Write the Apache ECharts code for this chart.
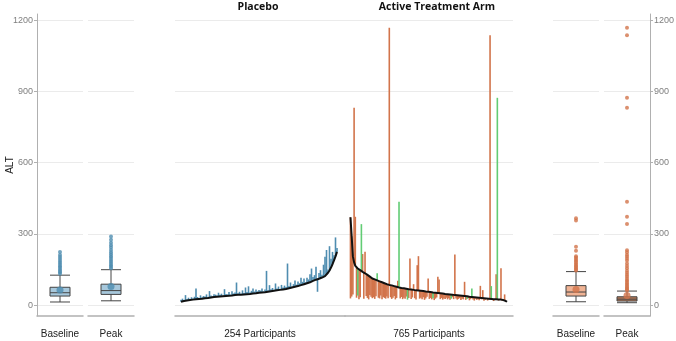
<!DOCTYPE html>
<html>
<head>
<meta charset="utf-8">
<script src="https://cdn.jsdelivr.net/npm/echarts@6/dist/echarts.min.js"></script>
<style>
  html, body { margin: 0; padding: 0; background: #fff; }
  #chart { width: 676px; height: 341px; }
</style>
</head>
<body>
<div id="chart"></div>
<script>
// ALT values
const yTicks = [0, 300, 600, 900, 1200]
const boxLabels = ['Baseline', 'Peak']

// boxplots: [min, Q1, median, Q3, max]
const placeboBox = [[13, 38, 52, 75, 126], [18, 45, 61, 88, 149]]
const placeboMean = [64, 78]
const placeboBaselineOut = [132, 138, 144, 150, 157, 164, 171, 178, 186, 194, 202, 211, 224]
const placeboPeakOut = [155, 161, 168, 175, 182, 190, 198, 206, 214, 222, 232, 242, 252, 262, 275, 289]

const activeBox = [[14, 38, 55, 82, 141], [10, 17, 25, 35, 59]]
const activeMean = [66, 40]
const activeBaselineOut = [146, 150, 155, 160, 165, 170, 176, 182, 188, 194, 200, 206, 229, 246, 356, 366]
const activePeakOut = [62, 66, 70, 75, 80, 86, 92, 98, 105, 112, 120, 128, 136, 145, 155, 165, 175, 188, 196, 205, 212, 222, 231, 341, 372, 435, 831, 873, 1137, 1168]

// per-participant profiles (sorted by baseline), baseline -> peak
const placeboBase = [
  14, 16, 17, 18, 19, 20, 21, 22, 23, 24,
  25, 25, 26, 27, 27, 28, 29, 29, 30, 31, 32, 33, 34,
  35, 35, 36, 36, 37, 37, 38, 38, 39, 39, 40, 40, 41, 42,
  42, 43, 43, 44, 44, 45, 45, 46, 47, 47, 48, 49, 49, 50, 51, 52,
  52, 53, 54, 54, 55, 56, 57, 58, 59, 60,
  61, 62, 63, 64, 65, 66, 67, 68, 70,
  71, 72, 74, 75, 77, 78, 80, 82, 84,
  86, 88, 90, 92, 94, 96, 99, 102, 105,
  107, 109, 111, 113, 116, 119, 122,
  128, 136, 146, 158, 172, 188, 205, 224
]
const placeboPeak = [
  22, 27, 20, 42, 25, 31, 24, 33, 28, 35,
  70, 34, 30, 41, 33, 38, 36, 45, 34, 59, 40, 37, 46,
  44, 40, 52, 43, 48, 39, 67, 47, 45, 55, 44, 58, 49, 53,
  95, 50, 56, 48, 62, 51, 74, 55, 79, 53, 60, 70, 57, 66, 58, 64,
  61, 70, 58, 66, 144, 62, 84, 67, 72, 64,
  91, 70, 78, 66, 85, 74, 82, 76, 175,
  80, 95, 78, 88, 104, 86, 99, 92, 115,
  98, 112, 96, 115, 108, 130, 154, 118, 126,
  161, 56, 135, 147, 128, 170, 204,
  232, 150, 248, 195, 224, 210, 285, 240
]

const activeBase = [
  370, 290, 205, 180, 165, 158,
  154, 150, 147, 143, 140,
  137, 134, 130, 127, 124, 120, 116, 112,
  110, 108, 106, 104, 102, 100, 98, 96, 94, 92, 90, 88, 86, 85,
  84, 83, 81, 80, 79, 77, 76, 74, 73,
  72, 71, 71, 70, 69, 68, 67, 67, 66, 65, 64, 63,
  62, 62, 61, 61, 60, 59, 59, 58, 57, 57, 56, 55, 55, 54, 53, 53, 52,
  51, 51, 50, 50, 49, 49, 48, 47, 47, 46, 46, 45, 44, 44, 43, 42,
  42, 41, 41, 40, 40, 39, 38, 38, 37, 37, 36, 35, 35, 34, 33, 33, 32,
  32, 31, 31, 30, 30, 29, 29, 28, 28, 28, 27, 27, 26, 26, 25, 25, 25, 24, 24, 24,
  23, 22, 21, 19, 17, 14
]
const activePeak = [
  28, 36, 45, 831, 372, 31, 40, 25, 33, 341,
  215, 27, 225, 38, 30, 24, 42, 35, 29, 33,
  26, 37, 134, 31, 28, 40, 25, 34, 30, 27,
  36, 29, 1168, 33, 26, 31, 38, 24, 30, 102,
  435, 28, 34, 25, 31, 27, 36, 23, 30, 196,
  26, 32, 88, 29, 24, 168, 206, 27, 31, 25,
  33, 22, 28, 35, 112, 26, 30, 24, 29, 21,
  27, 32, 119, 108, 25, 30, 23, 28, 26, 31,
  24, 29, 22, 27, 33, 25, 213, 28, 23, 26,
  30, 21, 27, 24, 98, 22, 26, 29, 20, 25,
  70, 23, 19, 27, 22, 25, 20, 81, 24, 63,
  18, 22, 26, 19, 23, 1137, 80, 21, 17, 24,
  130, 873, 19, 22, 155, 18, 20, 45, 16, 14
]
const activeGreen = [6, 9, 22, 40, 47, 68, 83, 96, 100, 112, 116, 121]

const BLUE = '#4f8db0'
const BLUE_FILL = '#a7c8dc'
const ORANGE = '#d2744b'
const ORANGE_FILL = '#f0b394'
const GREEN = '#62cc74'
const AXIS = '#b0b0b0'
const GRID = '#ebebeb'
const FONT = 'Liberation Sans'

const chart = echarts.init(document.getElementById('chart'), null, { renderer: 'canvas' })

function makeGrid(left, width) {
  return { left: left, top: 14, width: width, height: 302, outerBoundsMode: 'none', containLabel: false }
}

const grids = [
  makeGrid(37, 46),
  makeGrid(88, 46),
  makeGrid(175, 170),
  makeGrid(345, 168),
  makeGrid(553, 46),
  makeGrid(604, 46),
]

function yAxisFor(i) {
  const showLeft = i === 0
  const showRight = i === 5
  return {
    gridIndex: i,
    type: 'value',
    min: -46,
    max: 1226,
    position: showRight ? 'right' : 'left',
    name: showLeft ? 'ALT' : '',
    nameLocation: 'middle',
    nameGap: 22,
    nameRotate: 90,
    nameMoveOverlap: false,
    nameTextStyle: { color: '#222', fontSize: 10, fontFamily: FONT },
    axisLine: { show: showLeft || showRight, onZero: false, lineStyle: { color: AXIS } },
    axisTick: { show: showLeft || showRight, length: 3, customValues: yTicks, lineStyle: { color: AXIS } },
    axisLabel: {
      show: showLeft || showRight, customValues: yTicks, formatter: v => String(v),
      color: '#7f7f7f', fontSize: 9, fontFamily: FONT, margin: 4,
    },
    splitLine: { show: true, lineStyle: { color: GRID, width: 1 } },
  }
}

function boxXAxis(i, label) {
  return {
    gridIndex: i,
    type: 'category',
    data: [label],
    axisLine: { onZero: false, lineStyle: { color: AXIS, width: 1.5 } },
    axisTick: { alignWithLabel: true, length: 3, lineStyle: { color: '#777' } },
    axisLabel: { color: '#222', fontSize: 10, fontFamily: FONT, margin: 13 },
    splitLine: { show: false },
  }
}

function idxXAxis(i, n, padL, padR, name) {
  return {
    gridIndex: i,
    type: 'value',
    min: -padL,
    max: n - 1 + padR,
    name: name,
    nameLocation: 'middle',
    nameGap: 13,
    nameMoveOverlap: false,
    nameTextStyle: { color: '#222', fontSize: 10, fontFamily: FONT },
    axisLine: { onZero: false, lineStyle: { color: AXIS, width: 1.5 } },
    axisTick: { show: false },
    axisLabel: { show: false },
    splitLine: { show: false },
  }
}

function segmentItem(params, api) {
  const p1 = api.coord([api.value(0), api.value(1)])
  const p2 = api.coord([api.value(0), api.value(2)])
  return {
    type: 'line',
    shape: { x1: p1[0], y1: p1[1], x2: p2[0], y2: p2[1] },
    style: { stroke: api.visual('color'), lineWidth: 1.6 },
  }
}

function boxSeries(axis, box, fill) {
  return {
    type: 'boxplot',
    xAxisIndex: axis, yAxisIndex: axis,
    data: [box],
    boxWidth: [20, 20],
    itemStyle: { color: fill, borderColor: '#444', borderWidth: 1 },
    z: 2,
  }
}

function dotSeries(axis, label, values, color, size) {
  return {
    type: 'scatter',
    xAxisIndex: axis, yAxisIndex: axis,
    data: values.map(v => [label, v]),
    symbolSize: size,
    itemStyle: { color: color },
    z: 3,
  }
}

const placeboSeg = placeboBase.map((b, i) => [i, b, placeboPeak[i]])
const activeOrange = []
const activeGreenSeg = []
activeBase.forEach((b, i) => {
  const row = [i, b, activePeak[i]]
  if (activeGreen.includes(i)) activeGreenSeg.push(row)
  else activeOrange.push(row)
})

const titleStyle = { fontSize: 10.5, fontWeight: 'bold', color: '#111', fontFamily: 'Open Sans' }

const option = {
  animation: false,
  title: [
    { text: 'Placebo', left: 253, top: -3, textAlign: 'center', textStyle: titleStyle },
    { text: 'Active Treatment Arm', left: 432, top: -3, textAlign: 'center', textStyle: titleStyle },
  ],
  grid: grids,
  xAxis: [
    boxXAxis(0, boxLabels[0]),
    boxXAxis(1, boxLabels[1]),
    idxXAxis(2, placeboBase.length, 4, 5.33, '254 Participants'),
    idxXAxis(3, activeBase.length, 4.5, 4.9, '765 Participants'),
    boxXAxis(4, boxLabels[0]),
    boxXAxis(5, boxLabels[1]),
  ],
  yAxis: [0, 1, 2, 3, 4, 5].map(yAxisFor),
  series: [
    boxSeries(0, placeboBox[0], BLUE_FILL),
    dotSeries(0, boxLabels[0], placeboBaselineOut, BLUE, 4),
    dotSeries(0, boxLabels[0], [placeboMean[0]], BLUE, 7),
    boxSeries(1, placeboBox[1], BLUE_FILL),
    dotSeries(1, boxLabels[1], placeboPeakOut, BLUE, 4),
    dotSeries(1, boxLabels[1], [placeboMean[1]], BLUE, 7),

    {
      type: 'custom', xAxisIndex: 2, yAxisIndex: 2,
      renderItem: segmentItem, data: placeboSeg,
      itemStyle: { color: BLUE }, encode: { x: 0, y: [1, 2] }, z: 2,
    },
    {
      type: 'line', xAxisIndex: 2, yAxisIndex: 2,
      data: placeboBase.map((b, i) => [i, b]),
      symbol: 'none', lineStyle: { color: '#111', width: 2 }, z: 4,
    },
    {
      type: 'custom', xAxisIndex: 3, yAxisIndex: 3,
      renderItem: segmentItem, data: activeOrange,
      itemStyle: { color: ORANGE }, encode: { x: 0, y: [1, 2] }, z: 2,
    },
    {
      type: 'custom', xAxisIndex: 3, yAxisIndex: 3,
      renderItem: segmentItem, data: activeGreenSeg,
      itemStyle: { color: GREEN }, encode: { x: 0, y: [1, 2] }, z: 3,
    },
    {
      type: 'line', xAxisIndex: 3, yAxisIndex: 3,
      data: activeBase.map((b, i) => [i, b]),
      symbol: 'none', lineStyle: { color: '#111', width: 2 }, z: 4,
    },

    boxSeries(4, activeBox[0], ORANGE_FILL),
    dotSeries(4, boxLabels[0], activeBaselineOut, ORANGE, 4),
    dotSeries(4, boxLabels[0], [activeMean[0]], ORANGE, 7),
    boxSeries(5, activeBox[1], '#b97a57'),
    dotSeries(5, boxLabels[1], activePeakOut, ORANGE, 4),
    dotSeries(5, boxLabels[1], [activeMean[1]], ORANGE, 7),
  ],
}

chart.setOption(option)
</script>
</body>
</html>
